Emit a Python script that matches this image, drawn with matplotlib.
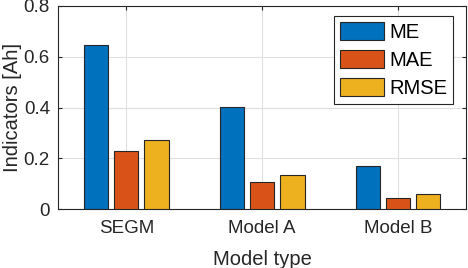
import matplotlib.pyplot as plt
import numpy as np

plt.rcParams['font.family'] = ['Liberation Sans', 'DejaVu Sans']

models = ['SEGM', 'Model A', 'Model B']
me = [0.648, 0.403, 0.170]
mae = [0.229, 0.106, 0.043]
rmse = [0.270, 0.133, 0.060]
series = [('ME', me, '#0072BD'), ('MAE', mae, '#D95319'), ('RMSE', rmse, '#EDB120')]

fig = plt.figure(figsize=(4.68, 2.68), dpi=100)
ax = fig.add_axes([58.3/468, 1-209/268, (466-58.3)/468, (209-6)/268])

x = np.arange(1, len(models)+1)
w = 0.18
off = 0.222
for k, (name, vals, col) in enumerate(series):
    ax.bar(x + (k-1)*off, vals, w, color=col, edgecolor='#262626', linewidth=0.8, label=name, zorder=3)

ax.set_xlim(0.5, 3.5)
ax.set_ylim(0, 0.8)
ax.set_xticks(x)
ax.set_xticklabels(models)
ax.set_yticks([0, 0.2, 0.4, 0.6, 0.8])
ax.set_yticklabels(['0', '0.2', '0.4', '0.6', '0.8'])
ax.grid(True, color='#dfdfdf', linewidth=0.8, zorder=0)
ax.set_axisbelow(True)
ax.tick_params(direction='in', top=True, right=True, labelsize=13.5, colors='#262626', length=3)
ax.tick_params(axis='x', pad=8)
ax.tick_params(axis='y', pad=6)
for s in ax.spines.values():
    s.set_color('#262626')
    s.set_linewidth(0.8)
ax.set_xlabel('Model type', fontsize=14.5, color='#262626', labelpad=9)
ax.set_ylabel('Indicators [Ah]', fontsize=14.5, color='#262626', labelpad=1)
leg = ax.legend(loc='upper right', fontsize=14.5, fancybox=False, edgecolor='#262626',
                framealpha=1, handlelength=2.2, handleheight=1.0, borderpad=0.3,
                labelspacing=0.4, handletextpad=0.25, borderaxespad=0,
                bbox_to_anchor=((453-58.3)/(466-58.3), (209-16)/203))
leg.get_frame().set_linewidth(0.8)

fig.savefig('out.png', dpi=100)
